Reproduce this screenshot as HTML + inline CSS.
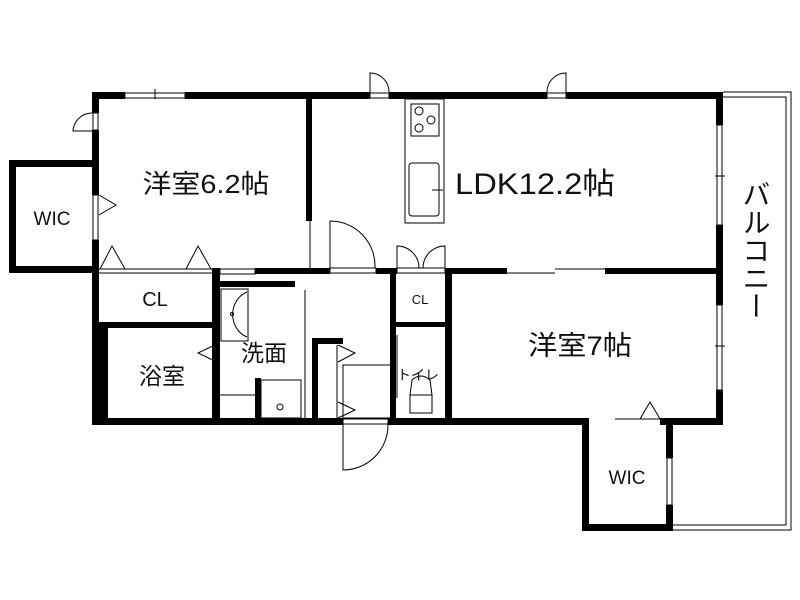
<!DOCTYPE html>
<html><head><meta charset="utf-8"><style>
html,body{margin:0;padding:0;background:#fff;width:800px;height:600px;overflow:hidden}
svg{display:block}
text{font-family:"Liberation Sans","Noto Sans CJK JP",sans-serif;fill:#111}
</style></head><body>
<svg width="800" height="600" viewBox="0 0 800 600" xmlns="http://www.w3.org/2000/svg">
<g fill="#000">
<rect x="92" y="92" width="33" height="7"/>
<rect x="185" y="92" width="185" height="7"/>
<rect x="389" y="92" width="158" height="7"/>
<rect x="566" y="92" width="157" height="7"/>
<rect x="92" y="92" width="7" height="21"/>
<rect x="92" y="130" width="7" height="65"/>
<rect x="92" y="240" width="7" height="184"/>
<rect x="92" y="325" width="16" height="99"/>
<rect x="92" y="418" width="251" height="7"/>
<rect x="388" y="418" width="194" height="7"/>
<rect x="716" y="92" width="7" height="33"/>
<rect x="716" y="225" width="7" height="80"/>
<rect x="716" y="390" width="7" height="35"/>
<rect x="582" y="418" width="7" height="113"/>
<rect x="582" y="524" width="90" height="7"/>
<rect x="666" y="418" width="7" height="40"/>
<rect x="666" y="505" width="7" height="26"/>
<rect x="660" y="418" width="63" height="7"/>
<rect x="9" y="160" width="90" height="7"/>
<rect x="9" y="160" width="7" height="113"/>
<rect x="9" y="266" width="90" height="7"/>
<rect x="306" y="99" width="6" height="122"/>
<rect x="212" y="268" width="8" height="150"/>
<rect x="255" y="268" width="75" height="6"/>
<rect x="376" y="268" width="21" height="6"/>
<rect x="445" y="268" width="62" height="6"/>
<rect x="605" y="268" width="118" height="6"/>
<rect x="99" y="322" width="120" height="6"/>
<rect x="390" y="274" width="6" height="150"/>
<rect x="445" y="268" width="7" height="156"/>
<rect x="390" y="322" width="60" height="5"/>
<rect x="312" y="338" width="31" height="6"/>
<rect x="312" y="338" width="6" height="80"/>
<rect x="255" y="378" width="6" height="40"/>
<rect x="220" y="281" width="75" height="6"/>
</g>
<g fill="none" stroke="#000" stroke-width="1">
<rect x="125" y="93" width="60" height="5"/><line x1="155" y1="89" x2="155" y2="99"/>
<rect x="370" y="93" width="19" height="5"/><path d="M370 93 V73 A19 19 0 0 1 389 92"/>
<rect x="547" y="93" width="19" height="5"/><path d="M566 93 V73 A19 19 0 0 0 547 92"/>
<rect x="93" y="113" width="5" height="17"/><path d="M93 131 H73 A19 19 0 0 1 92 113"/>
<rect x="93" y="195" width="5" height="45"/>
<path d="M99 195 L116 205 L99 215"/>
<rect x="717" y="125" width="5" height="100"/><line x1="715" y1="176" x2="725" y2="176"/>
<rect x="717" y="305" width="5" height="85"/><line x1="715" y1="346" x2="725" y2="346"/>
<rect x="667" y="458" width="5" height="47"/>
<path d="M723 92 H791 V530 H672"/>
<path d="M723 97 H786 V525 H672"/>
<line x1="99" y1="269" x2="212" y2="269"/>
<line x1="99" y1="273" x2="212" y2="273"/>
<path d="M100 269 L112 246 L125 269"/><path d="M186 269 L198 246 L211 269"/>
<rect x="220" y="269" width="35" height="5"/>
<line x1="615" y1="419" x2="660" y2="419"/>
<path d="M640 419 L650 402 L660 419"/>
<line x1="310" y1="221" x2="310" y2="268"/>
<path d="M330 268 V221 A45 45 0 0 1 375 268"/>
<rect x="330" y="268" width="46" height="5"/>
<path d="M397 268 V246 A22 22 0 0 1 419 268"/>
<path d="M445 268 V246 A22 22 0 0 0 423 268"/>
<rect x="397" y="268" width="48" height="5"/>
<line x1="555" y1="269" x2="605" y2="269"/><line x1="507" y1="273" x2="555" y2="273"/>
<rect x="343" y="419" width="45" height="5"/>
<path d="M343 424 V470 A45 45 0 0 0 388 424"/>
<rect x="405" y="99" width="39" height="124"/>
<rect x="411" y="104" width="28" height="32"/>
<circle cx="419" cy="111" r="4"/><circle cx="431" cy="120" r="4"/><circle cx="419" cy="128" r="4"/>
<rect x="409" y="163" width="30" height="53" rx="3"/>
<line x1="432" y1="190" x2="443" y2="190"/>
<rect x="221" y="289" width="27" height="52"/>
<path d="M247 292 A22 24 0 0 0 247 337"/>
<circle cx="232" cy="314" r="1.5"/>
<line x1="219" y1="342" x2="219" y2="395"/>
<path d="M217 344 L198 353 L217 362"/>
<line x1="220" y1="395" x2="255" y2="395"/>
<rect x="261" y="380" width="40" height="38"/>
<circle cx="280" cy="407" r="3"/>
<line x1="305" y1="290" x2="305" y2="418"/>
<path d="M338 345 L355 353 L338 362"/>
<path d="M338 402 L355 410 L338 418"/>
<line x1="337" y1="345" x2="337" y2="418"/>
<rect x="343" y="365" width="48" height="53"/>
<line x1="397" y1="335" x2="397" y2="398"/>
<rect x="410" y="395" width="22" height="18"/>
<path d="M412 380 Q421 372 430 380 L432 395 H410 Z"/>
</g>
<text x="206" y="193" font-size="26" text-anchor="middle" textLength="127" lengthAdjust="spacingAndGlyphs">洋室6.2帖</text>
<text x="535" y="194" font-size="30" text-anchor="middle" textLength="160" lengthAdjust="spacingAndGlyphs">LDK12.2帖</text>
<text x="580" y="355" font-size="27" text-anchor="middle" textLength="104" lengthAdjust="spacingAndGlyphs">洋室7帖</text>
<text x="52" y="225" font-size="19" text-anchor="middle">WIC</text>
<text x="627" y="484" font-size="19" text-anchor="middle">WIC</text>
<text x="155" y="306" font-size="20" text-anchor="middle">CL</text>
<text x="420" y="304" font-size="13" text-anchor="middle">CL</text>
<text x="162" y="384" font-size="23" text-anchor="middle">浴室</text>
<text x="264" y="361" font-size="23" text-anchor="middle">洗面</text>
<text x="418" y="380" font-size="14" text-anchor="middle">トイレ</text>
<text x="755" y="250" font-size="28" text-anchor="middle" writing-mode="tb">バルコニー</text>
</svg>
</body></html>
